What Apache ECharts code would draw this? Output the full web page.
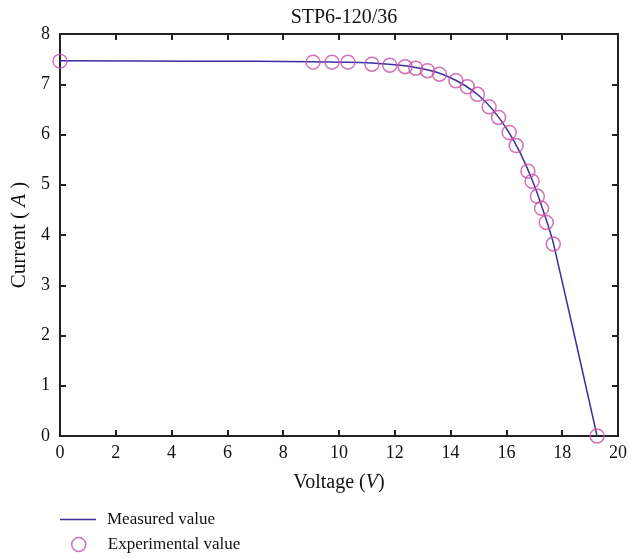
<!DOCTYPE html>
<html><head><meta charset="utf-8">
<script src="https://cdn.jsdelivr.net/npm/echarts@6/dist/echarts.min.js"></script>
<style>html,body{margin:0;padding:0;background:#fff}#c{width:630px;height:559px}</style>
</head><body><div id="c"></div>
<script>
var titleText = "STP6-120/36";
var measuredV = [0, 5, 9, 10, 11, 12, 12.5, 13, 13.5, 14, 14.5, 15, 15.5, 16, 16.5, 17, 17.5, 17.7, 19.25];
var measuredI = [7.47, 7.46, 7.45, 7.44, 7.43, 7.39, 7.36, 7.31, 7.24, 7.13, 6.98, 6.78, 6.50, 6.12, 5.63, 4.99, 4.18, 3.80, 0];
var expV = [0, 9.07, 9.75, 10.32, 11.18, 11.82, 12.37, 12.75, 13.17, 13.60, 14.19, 14.60, 14.96, 15.38, 15.72, 16.10, 16.35, 16.77, 16.92, 17.11, 17.26, 17.43, 17.68, 19.25];
var expI = [7.46, 7.44, 7.44, 7.44, 7.40, 7.38, 7.35, 7.32, 7.27, 7.20, 7.07, 6.95, 6.80, 6.55, 6.34, 6.04, 5.78, 5.27, 5.07, 4.77, 4.53, 4.25, 3.82, 0];
var xTicks = [0, 2, 4, 6, 8, 10, 12, 14, 16, 18, 20];
var yTicks = [0, 1, 2, 3, 4, 5, 6, 7, 8];

var F = "Liberation Serif";
var LINE = '#3a2f9e', PINK = '#c94fa8';
var chart = echarts.init(document.getElementById('c'));
function pairs(a, b) { return a.map(function (v, i) { return [v, b[i]]; }); }
var axisLine = {show: true, onZero: false, lineStyle: {color: '#222', width: 2}};
var tick = {inside: true, length: 6, lineStyle: {color: '#222', width: 2}};
function nameStyle(sz) { return {fontFamily: F, fontSize: sz, color: '#111', rich: {i: {fontFamily: F, fontStyle: 'italic', fontSize: sz, color: '#111'}}}; }
chart.setOption({
  animation: false,
  title: {text: titleText, left: 339, textAlign: 'center', top: 3, textStyle: {fontFamily: F, fontSize: 20, fontWeight: 'normal', color: '#111'}},
  grid: {left: 60, right: 12, top: 34, bottom: 123},
  legend: [{
    orient: 'vertical', left: 55, top: 506, itemWidth: 36, itemHeight: 14,
    textStyle: {fontFamily: F, fontSize: 17, color: '#111', padding: [0, 0, 0, 6]},
    data: [{name: 'Measured value', icon: 'path://M0,0 L36,0 L36,1.5 L0,1.5 Z', itemStyle: {color: LINE}}]
  }, {
    orient: 'vertical', left: 66, top: 531, itemWidth: 36, itemHeight: 14,
    textStyle: {fontFamily: F, fontSize: 17, color: '#111', padding: [0, 0, 0, 6]},
    data: [{name: 'Experimental value', icon: 'circle', itemStyle: {color: 'rgba(0,0,0,0)', borderColor: PINK, borderWidth: 1.5}}]
  }],
  xAxis: [{
    type: 'value', min: 0, max: 20, interval: 2,
    name: 'Voltage ({i|V})', nameLocation: 'middle', nameGap: 37, nameTextStyle: nameStyle(20),
    axisLine: axisLine, axisTick: tick,
    axisLabel: {fontFamily: F, fontSize: 18, color: '#111', margin: 8},
    splitLine: {show: false}
  }, {
    type: 'value', min: 0, max: 20, interval: 2, position: 'top',
    axisLine: axisLine, axisTick: tick, axisLabel: {show: false}, splitLine: {show: false}
  }],
  yAxis: [{
    type: 'value', min: 0, max: 8, interval: 1,
    name: 'Current ( {i|A} )', nameLocation: 'middle', nameGap: 28, nameRotate: 90, nameTextStyle: nameStyle(21),
    axisLine: axisLine, axisTick: tick,
    axisLabel: {fontFamily: F, fontSize: 18, color: '#111', margin: 10},
    splitLine: {show: false}
  }, {
    type: 'value', min: 0, max: 8, interval: 1, position: 'right',
    axisLine: axisLine, axisTick: tick, axisLabel: {show: false}, splitLine: {show: false}
  }],
  series: [{
    name: 'Measured value', type: 'line', data: pairs(measuredV, measuredI), smooth: 0.3,
    showSymbol: false, symbol: 'none', lineStyle: {color: LINE, width: 1.5}, itemStyle: {color: LINE}, z: 2
  }, {
    name: 'Experimental value', type: 'scatter', data: pairs(expV, expI),
    symbol: 'circle', symbolSize: 14,
    itemStyle: {color: 'rgba(0,0,0,0)', borderColor: PINK, borderWidth: 1.5}, z: 3
  }]
});
</script></body></html>
